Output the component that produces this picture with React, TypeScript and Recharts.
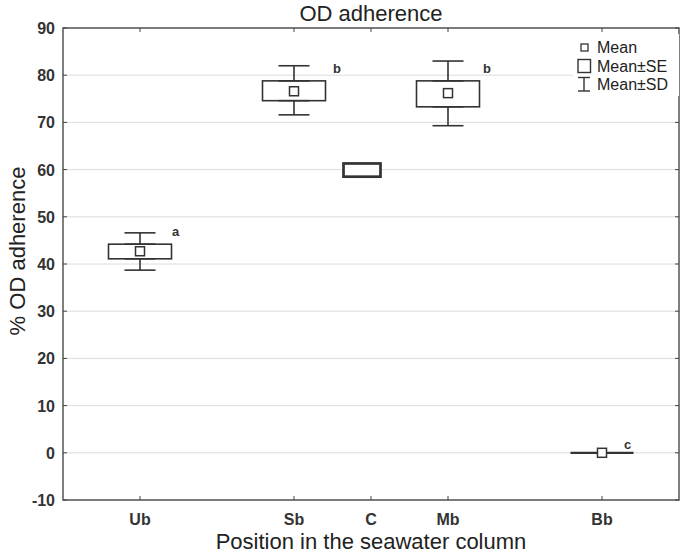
import React from "react";
import {
  ComposedChart,
  Bar,
  Scatter,
  ErrorBar,
  XAxis,
  YAxis,
  CartesianGrid,
  Legend,
  ReferenceArea,
} from "recharts";

// values
const categories = ["Ub", "Sb", "C", "Mb", "Bb"];
const positions = [1, 3, 4, 5, 7];
const means: (number | null)[] = [42.7, 76.6, null, 76.2, 0];
const seLow = [41.1, 74.6, 58.5, 73.3, 0];
const seHigh = [44.2, 78.8, 61.3, 78.8, 0];
const sdLow: (number | null)[] = [38.7, 71.6, null, 69.3, 0];
const sdHigh: (number | null)[] = [46.6, 82.0, null, 83.0, 0];
const letters = ["a", "b", "", "b", "c"];
const letterY: (number | null)[] = [45.9, 80.5, null, 80.5, 0.8];
const yTicks = [-10, 0, 10, 20, 30, 40, 50, 60, 70, 80, 90];
const legendItems = ["Mean", "Mean±SE", "Mean±SD"];

const W = 685;
const H = 554;
const MARGIN = { top: 28, right: 6, bottom: 24, left: 0 };
const PLOT_TOP = MARGIN.top;
const PLOT_RIGHT = W - MARGIN.right;
const FONT = "'Liberation Sans', Arial, sans-serif";
const INK = "#333";
const letterDx: Record<string, number> = { Ub: 32, Sb: 39, Mb: 35, Bb: 22 };

const rows = categories.map((name, i) => ({
  name,
  pos: positions[i],
  mean: means[i],
  se: [seLow[i], seHigh[i]],
  seLo: seLow[i],
  seHi: seHigh[i],
  upErr: sdHigh[i] == null ? null : [0, (sdHigh[i] as number) - seHigh[i]],
  downErr: sdLow[i] == null ? null : [seLow[i] - (sdLow[i] as number), 0],
  letter: letters[i],
  letterY: letterY[i],
}));
const meanRows = rows.filter((r) => r.mean != null);
const sdRows = rows.filter((r) => r.upErr != null);
const letterRows = rows.filter((r) => r.letter);

const BoxShape = (props: any) => {
  const { x, y, width, height, payload } = props;
  const isC = payload && payload.name === "C";
  const w = isC ? 37 : width;
  const cx = x + width / 2 + (isC ? -9 : 0);
  const top = Math.min(y, y + height);
  const h = Math.abs(height);
  if (!h) {
    return <line x1={cx - w / 2} x2={cx + w / 2} y1={top} y2={top} stroke={INK} strokeWidth={2.2} />;
  }
  return (
    <rect
      x={cx - w / 2}
      y={top}
      width={w}
      height={h}
      fill="#fff"
      stroke={INK}
      strokeWidth={isC ? 2.7 : 1.6}
    />
  );
};

const MeanShape = (props: any) => {
  const { cx, cy } = props;
  return <rect x={cx - 4.5} y={cy - 4.5} width={9} height={9} fill="#fff" stroke={INK} strokeWidth={1.5} />;
};

const Empty = () => <g />;

const LetterShape = (props: any) => {
  const { cx, cy, payload } = props;
  return (
    <text
      x={cx + (letterDx[payload.name] ?? 30)}
      y={cy}
      fontSize={13}
      fontWeight="bold"
      fill={INK}
      fontFamily={FONT}
    >
      {payload.letter}
    </text>
  );
};

const XTick = (props: any) => {
  const { x, y, payload } = props;
  const label = categories[positions.indexOf(payload.value)];
  return (
    <g>
      <line x1={x} x2={x} y1={y} y2={y - 4} stroke="#444" />
      <line x1={x} x2={x} y1={PLOT_TOP} y2={PLOT_TOP + 4} stroke="#444" />
      <text x={x} y={y + 25} textAnchor="middle" fontSize={16} fontWeight="bold" fill="#333" fontFamily={FONT}>
        {label}
      </text>
    </g>
  );
};

const YTick = (props: any) => {
  const { x, y, payload } = props;
  return (
    <g>
      <line x1={x} x2={x + 4} y1={y} y2={y} stroke="#444" />
      <line x1={PLOT_RIGHT - 4} x2={PLOT_RIGHT} y1={y} y2={y} stroke="#444" />
      <text x={x - 8} y={y + 6} textAnchor="end" fontSize={16} fontWeight="bold" fill="#333" fontFamily={FONT}>
        {payload.value}
      </text>
    </g>
  );
};

const LegendContent = () => (
  <svg width={106} height={62} style={{ display: "block" }}>
    <rect x={8} y={10} width={7} height={7} fill="#fff" stroke={INK} strokeWidth={1.3} />
    <rect x={5} y={25.5} width={12.5} height={13} fill="#fff" stroke={INK} strokeWidth={1.4} />
    <g stroke={INK} strokeWidth={1.4}>
      <line x1={5} x2={17} y1={43.5} y2={43.5} />
      <line x1={11} x2={11} y1={43.5} y2={57} />
      <line x1={5} x2={17} y1={57} y2={57} />
    </g>
    {legendItems.map((t, i) => (
      <text key={t} x={24} y={19 + i * 18.7} fontSize={16} fill="#222" fontFamily={FONT}>
        {t}
      </text>
    ))}
  </svg>
);

export default function App() {
  return (
    <div
      style={{
        position: "absolute",
        left: 0,
        top: 0,
        width: W,
        height: H,
        background: "#fff",
        fontFamily: FONT,
      }}
    >
      <div
        style={{
          position: "absolute",
          left: 221,
          top: 3,
          width: 300,
          textAlign: "center",
          fontSize: 22,
          lineHeight: "22px",
          color: "#222",
          zIndex: 2,
        }}
      >
        OD adherence
      </div>
      <ComposedChart width={W} height={H} data={rows} margin={MARGIN}>
        <CartesianGrid vertical={false} stroke="#dcdcdc" />
        <XAxis
          dataKey="pos"
          type="number"
          domain={[0, 8]}
          ticks={positions}
          interval={0}
          tick={<XTick />}
          tickSize={0}
          tickMargin={0}
          tickLine={false}
          axisLine={false}
          height={30}
          allowDataOverflow
          label={{
            content: (p: any) => {
              const vb = p.viewBox || { x: 63, width: 616 };
              return (
                <text
                  x={vb.x + vb.width / 2}
                  y={549}
                  textAnchor="middle"
                  fontSize={22}
                  fill="#222"
                  fontFamily={FONT}
                >
                  Position in the seawater column
                </text>
              );
            },
          }}
        />
        <YAxis
          type="number"
          domain={[-10, 90]}
          ticks={yTicks}
          interval={0}
          tick={<YTick />}
          tickSize={0}
          tickMargin={0}
          tickLine={false}
          axisLine={false}
          width={63}
          allowDataOverflow
          label={{
            content: (p: any) => {
              const vb = p.viewBox || { y: 28, height: 472 };
              const cy = vb.y + vb.height / 2 - 13;
              return (
                <text
                  x={25}
                  y={cy}
                  transform={`rotate(-90 25 ${cy})`}
                  textAnchor="middle"
                  fontSize={22}
                  fill="#222"
                  fontFamily={FONT}
                >
                  % OD adherence
                </text>
              );
            },
          }}
        />
        <ReferenceArea x1={0} x2={8} y1={-10} y2={90} fill="none" fillOpacity={0} stroke="#555" strokeWidth={1.5} />
        <Scatter data={sdRows} dataKey="seHi" shape={<Empty />} isAnimationActive={false}>
          <ErrorBar dataKey="upErr" direction="y" width={15.5} stroke={INK} strokeWidth={1.6} isAnimationActive={false} />
        </Scatter>
        <Scatter data={sdRows} dataKey="seLo" shape={<Empty />} isAnimationActive={false}>
          <ErrorBar dataKey="downErr" direction="y" width={15.5} stroke={INK} strokeWidth={1.6} isAnimationActive={false} />
        </Scatter>
        <Bar dataKey="se" barSize={63} shape={<BoxShape />} isAnimationActive={false} />
        <Scatter data={meanRows} dataKey="mean" shape={<MeanShape />} isAnimationActive={false} />
        <Scatter data={letterRows} dataKey="letterY" shape={<LetterShape />} isAnimationActive={false} />
        <Legend
          layout="vertical"
          align="center"
          verticalAlign="middle"
          content={<LegendContent />}
          wrapperStyle={{ position: "absolute", left: 573, top: 34, width: 106, height: 62, background: "#fff" }}
        />
      </ComposedChart>
    </div>
  );
}
